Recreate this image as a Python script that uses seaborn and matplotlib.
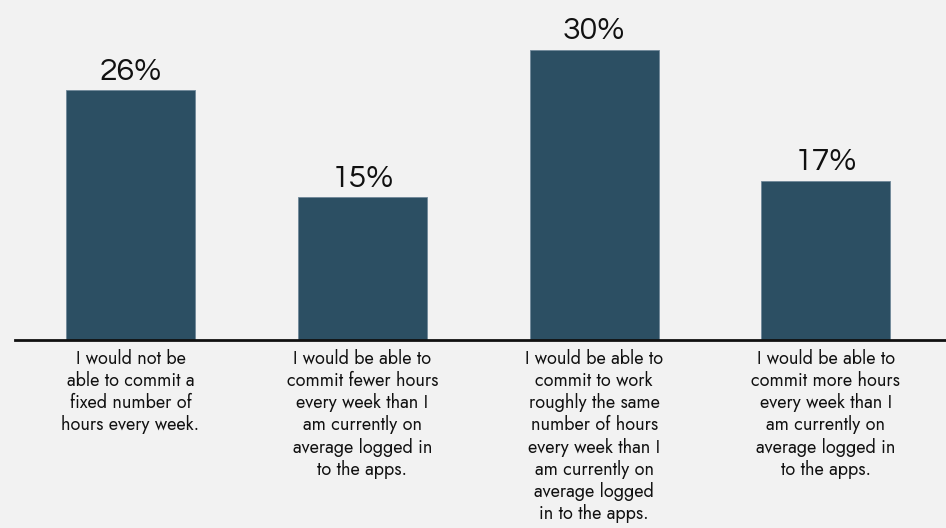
import matplotlib
matplotlib.use("Agg")
import matplotlib.pyplot as plt
import seaborn as sns
import pandas as pd

# answers and the share (%) of respondents
answers = [
    "I would not be\nable to commit a\nfixed number of\nhours every week.",
    "I would be able to\ncommit fewer hours\nevery week than I\nam currently on\naverage logged in\nto the apps.",
    "I would be able to\ncommit to work\nroughly the same\nnumber of hours\nevery week than I\nam currently on\naverage logged\nin to the apps.",
    "I would be able to\ncommit more hours\nevery week than I\nam currently on\naverage logged in\nto the apps.",
]
shares = [26.2, 15.0, 30.4, 16.7]

df = pd.DataFrame({"answer": answers, "share": shares})

sns.set_theme(style="white")
plt.rcParams["font.family"] = ["Questrial", "DejaVu Sans"]

bg = "#F2F2F2"
fig = plt.figure(figsize=(9.46, 5.28), dpi=100, facecolor=bg)
ax = fig.add_axes([15 / 946, (528 - 340) / 528, 931 / 946, 340 / 528])
ax.set_facecolor(bg)

sns.barplot(data=df, x="answer", y="share", color="#2C4F63", saturation=1,
            width=0.556, edgecolor="#6F8899", linewidth=0.6, ax=ax)

ax.bar_label(ax.containers[0], labels=[f"{v:.0f}%" for v in shares],
             padding=3, fontsize=23, color="#111111")

ax.set_ylim(0, 35.6)
ax.set_xlim(-0.498, 3.518)
ax.set_xlabel("")
ax.set_ylabel("")
ax.set_yticks([])
ax.tick_params(axis="x", length=0, pad=6, colors="#111111")
for lbl in ax.get_xticklabels():
    lbl.set_family(["Jost", "Questrial", "DejaVu Sans"])
    lbl.set_fontsize(13)
    lbl.set_linespacing(1.22)
    lbl.set_horizontalalignment("center")

for s in ["top", "right", "left"]:
    ax.spines[s].set_visible(False)
ax.spines["bottom"].set_color("#111111")
ax.spines["bottom"].set_linewidth(2)

fig.savefig("out.png", dpi=100, facecolor=bg)
